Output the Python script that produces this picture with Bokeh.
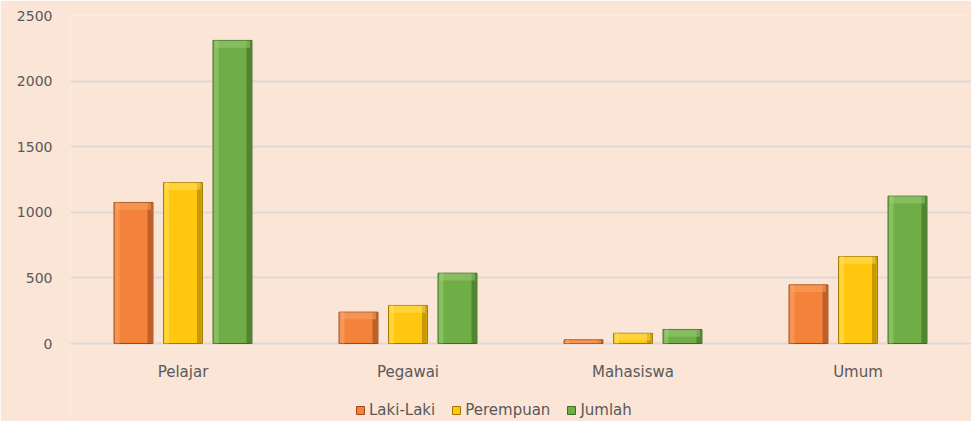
from bokeh.plotting import figure
from bokeh.models import ColumnDataSource, Legend, LegendItem, FixedTicker, Range1d
from bokeh.core.properties import value
from bokeh.embed import file_html
from bokeh.resources import INLINE

categories = ["Pelajar", "Pegawai", "Mahasiswa", "Umum"]
series_names = ["Laki-Laki", "Perempuan", "Jumlah"]
laki_laki = [1075, 239, 28, 447]
perempuan = [1227, 290, 78, 663]
jumlah = [2310, 536, 107, 1123]
y_ticks = [0, 500, 1000, 1500, 2000, 2500]

values = [laki_laki, perempuan, jumlah]
fills = ["#F5823A", "#FFC70D", "#70AD47"]
dark = ["#9C4A1C", "#A07A00", "#3D6B24"]
light = ["#FBA66A", "#FFE066", "#9BD077"]
offsets = [-0.22, 0.0, 0.22]
bar_w = 0.173

BG = "#FBE5D6"
TXT = "#595959"
FONT = "DejaVu Sans"

# frame extends to the bottom of the figure; 0 sits 78px above the bottom edge
px_per_unit = 328 / 2500
p = figure(width=971, height=421, output_backend="svg", toolbar_location=None,
           x_range=Range1d(0, 901 / 225), y_range=Range1d(-78 / px_per_unit, 2500),
           min_border_left=70, min_border_right=0, min_border_top=15, min_border_bottom=0)
p.background_fill_color = BG
p.border_fill_color = BG
p.outline_line_color = None

renderers = []
for i, name in enumerate(series_names):
    xs = [c + 0.5 + offsets[i] for c in range(len(categories))]
    src = ColumnDataSource(dict(x=xs, top=values[i]))
    r = p.vbar(x="x", top="top", bottom=0, width=bar_w, source=src,
               fill_color=fills[i], line_color=dark[i], line_width=1)
    renderers.append(r)
    # bevel effect: left light strip, right dark strip, top highlight
    xl = [x - bar_w * 0.42 for x in xs]
    xr = [x + bar_w * 0.42 for x in xs]
    p.vbar(x=xl, top=values[i], bottom=0, width=bar_w * 0.12,
           fill_color=light[i], fill_alpha=0.55, line_color=None)
    p.vbar(x=xr, top=values[i], bottom=0, width=bar_w * 0.12,
           fill_color=dark[i], fill_alpha=0.6, line_color=None)
    tb = [max(v - 55, 0) for v in values[i]]
    p.vbar(x=xs, top=values[i], bottom=tb, width=bar_w * 0.9,
           fill_color=light[i], fill_alpha=0.5, line_color=None)

# category labels under the zero line
cat_src = ColumnDataSource(dict(x=[c + 0.5 for c in range(len(categories))],
                                y=[0] * len(categories), text=categories))
p.text(x="x", y="y", text="text", source=cat_src, y_offset=19,
       text_align="center", text_baseline="top", text_color=TXT,
       text_font=value(FONT), text_font_size="15px")

p.xaxis.visible = False
p.yaxis.ticker = FixedTicker(ticks=y_ticks)
ax = p.yaxis[0]
ax.axis_line_color = None
ax.major_tick_line_color = None
ax.minor_tick_line_color = None
ax.major_label_text_color = TXT
ax.major_label_text_font = FONT
ax.major_label_text_font_size = "14px"
ax.major_label_standoff = 12

p.xgrid.grid_line_color = None
p.ygrid.grid_line_color = "#DCDAD8"
p.ygrid.grid_line_width = 2

legend = Legend(items=[LegendItem(label=n, renderers=[r]) for n, r in zip(series_names, renderers)],
                orientation="horizontal", location=(285, 2),
                background_fill_alpha=0, border_line_color=None,
                label_text_font=FONT, label_text_font_size="15px", label_text_color=TXT,
                glyph_width=10, glyph_height=10, label_standoff=4, spacing=16,
                padding=0, margin=0, label_height=15)
p.add_layout(legend, "center")

open("out.html", "w").write(file_html(p, INLINE))
